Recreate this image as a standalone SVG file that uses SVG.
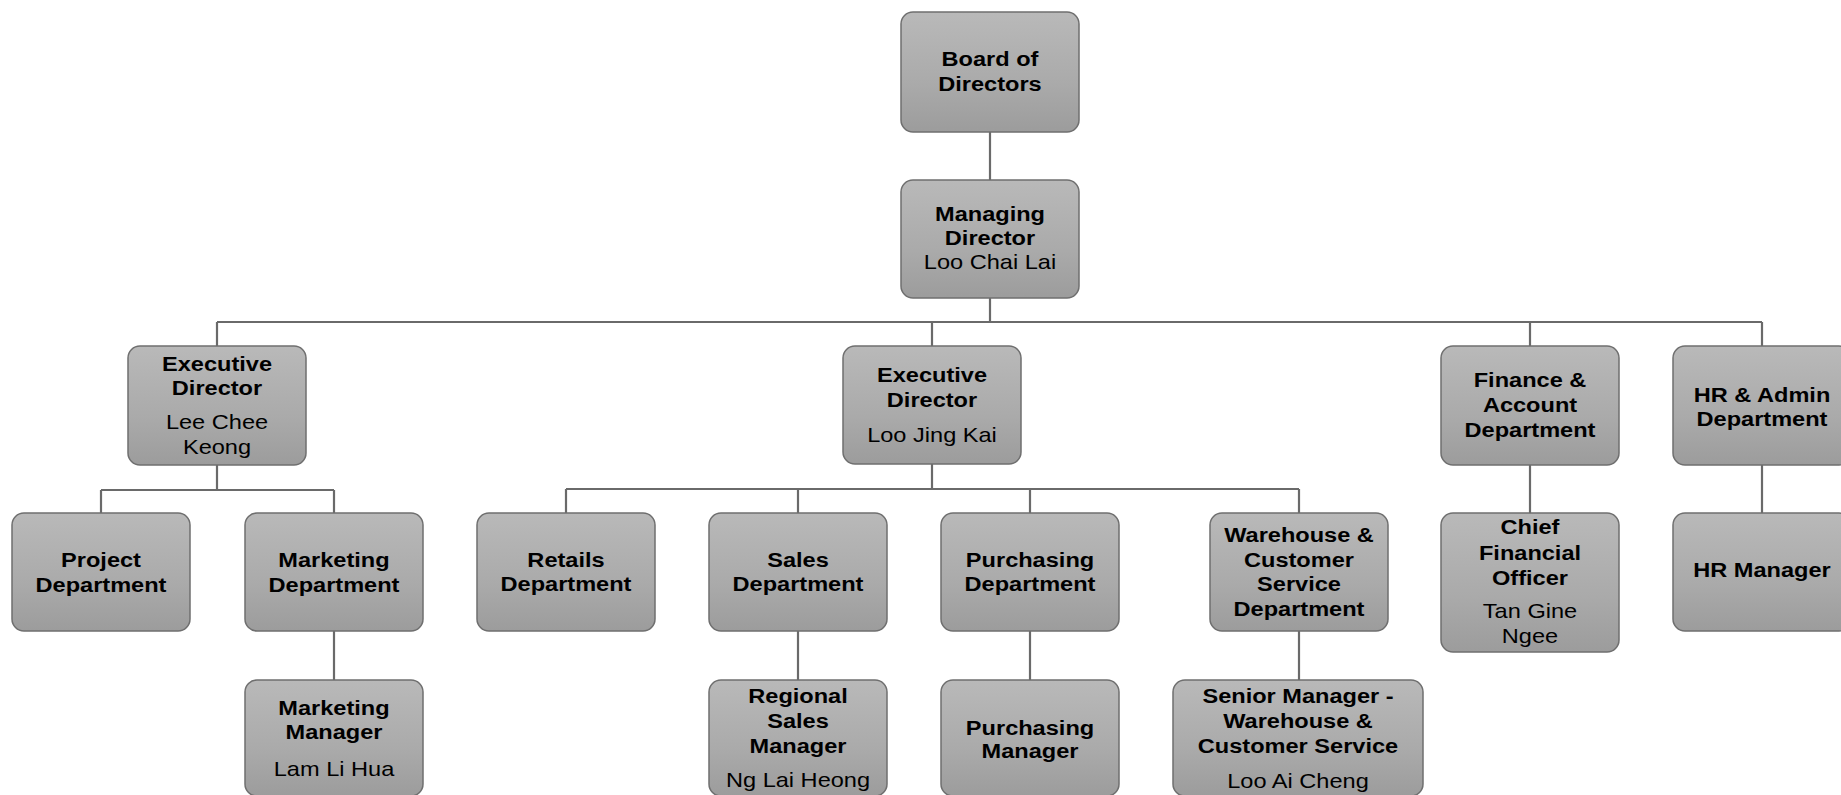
<svg xmlns="http://www.w3.org/2000/svg" width="1841" height="795" viewBox="0 0 1841 795">
<defs>
<linearGradient id="g" x1="0" y1="0" x2="0" y2="1">
<stop offset="0" stop-color="#b9b9b9"/>
<stop offset="0.6" stop-color="#aaaaaa"/>
<stop offset="1" stop-color="#9c9c9c"/>
</linearGradient>
<style>
.box{fill:url(#g);stroke:#6f6f6f;stroke-width:1.5}
.c{fill:none;stroke:#6a6a6a;stroke-width:2.2}
text{font-family:"Liberation Sans",Arial,sans-serif;font-size:20.5px;fill:#000;text-anchor:middle}
.b{font-weight:bold}
</style>
</defs>
<rect width="1841" height="795" fill="#fff"/>
<g id="connectors">
<path class="c" d="M990 132V180"/>
<path class="c" d="M990 298V322M217 322H1762M217 322V346M932 322V346M1530 322V346M1762 322V346"/>
<path class="c" d="M217 465V490M101 490H334M101 490V513M334 490V513"/>
<path class="c" d="M334 631V680"/>
<path class="c" d="M932 464V489M566 489H1299M566 489V513M798 489V513M1030 489V513M1299 489V513"/>
<path class="c" d="M798 631V680M1030 631V680M1299 631V680"/>
<path class="c" d="M1530 465V513M1762 465V513"/>
</g>
<g id="board">
<rect class="box" x="901" y="12" width="178" height="120" rx="12"/>
<g transform="matrix(1.15 0 0 1 990 0)"><text class="b" x="0" y="66">Board of</text><text class="b" x="0" y="91">Directors</text></g>
</g>
<g id="md">
<rect class="box" x="901" y="180" width="178" height="118" rx="12"/>
<g transform="matrix(1.15 0 0 1 990 0)"><text class="b" x="0" y="221">Managing</text><text class="b" x="0" y="245">Director</text><text x="0" y="269">Loo Chai Lai</text></g>
</g>
<g id="ed-lee">
<rect class="box" x="128" y="346" width="178" height="119" rx="12"/>
<g transform="matrix(1.15 0 0 1 217 0)"><text class="b" x="0" y="371">Executive</text><text class="b" x="0" y="395">Director</text><text x="0" y="429">Lee Chee</text><text x="0" y="454">Keong</text></g>
</g>
<g id="ed-loo">
<rect class="box" x="843" y="346" width="178" height="118" rx="12"/>
<g transform="matrix(1.15 0 0 1 932 0)"><text class="b" x="0" y="382">Executive</text><text class="b" x="0" y="407">Director</text><text x="0" y="442">Loo Jing Kai</text></g>
</g>
<g id="finance">
<rect class="box" x="1441" y="346" width="178" height="119" rx="12"/>
<g transform="matrix(1.15 0 0 1 1530 0)"><text class="b" x="0" y="387">Finance &amp;</text><text class="b" x="0" y="412">Account</text><text class="b" x="0" y="437">Department</text></g>
</g>
<g id="hr">
<rect class="box" x="1673" y="346" width="178" height="119" rx="12"/>
<g transform="matrix(1.15 0 0 1 1762 0)"><text class="b" x="0" y="402">HR &amp; Admin</text><text class="b" x="0" y="426">Department</text></g>
</g>
<g id="project">
<rect class="box" x="12" y="513" width="178" height="118" rx="12"/>
<g transform="matrix(1.15 0 0 1 101 0)"><text class="b" x="0" y="567">Project</text><text class="b" x="0" y="592">Department</text></g>
</g>
<g id="marketing">
<rect class="box" x="245" y="513" width="178" height="118" rx="12"/>
<g transform="matrix(1.15 0 0 1 334 0)"><text class="b" x="0" y="567">Marketing</text><text class="b" x="0" y="592">Department</text></g>
</g>
<g id="retails">
<rect class="box" x="477" y="513" width="178" height="118" rx="12"/>
<g transform="matrix(1.15 0 0 1 566 0)"><text class="b" x="0" y="567">Retails</text><text class="b" x="0" y="591">Department</text></g>
</g>
<g id="sales">
<rect class="box" x="709" y="513" width="178" height="118" rx="12"/>
<g transform="matrix(1.15 0 0 1 798 0)"><text class="b" x="0" y="567">Sales</text><text class="b" x="0" y="591">Department</text></g>
</g>
<g id="purchasing">
<rect class="box" x="941" y="513" width="178" height="118" rx="12"/>
<g transform="matrix(1.15 0 0 1 1030 0)"><text class="b" x="0" y="567">Purchasing</text><text class="b" x="0" y="591">Department</text></g>
</g>
<g id="warehouse">
<rect class="box" x="1210" y="513" width="178" height="118" rx="12"/>
<g transform="matrix(1.15 0 0 1 1299 0)"><text class="b" x="0" y="542">Warehouse &amp;</text><text class="b" x="0" y="567">Customer</text><text class="b" x="0" y="591">Service</text><text class="b" x="0" y="616">Department</text></g>
</g>
<g id="cfo">
<rect class="box" x="1441" y="513" width="178" height="139" rx="12"/>
<g transform="matrix(1.15 0 0 1 1530 0)"><text class="b" x="0" y="534">Chief</text><text class="b" x="0" y="560">Financial</text><text class="b" x="0" y="585">Officer</text><text x="0" y="618">Tan Gine</text><text x="0" y="643">Ngee</text></g>
</g>
<g id="hr-manager">
<rect class="box" x="1673" y="513" width="178" height="118" rx="12"/>
<g transform="matrix(1.15 0 0 1 1762 0)"><text class="b" x="0" y="577">HR Manager</text></g>
</g>
<g id="marketing-manager">
<rect class="box" x="245" y="680" width="178" height="116" rx="12"/>
<g transform="matrix(1.15 0 0 1 334 0)"><text class="b" x="0" y="715">Marketing</text><text class="b" x="0" y="739">Manager</text><text x="0" y="776">Lam Li Hua</text></g>
</g>
<g id="regional-sales">
<rect class="box" x="709" y="680" width="178" height="116" rx="12"/>
<g transform="matrix(1.15 0 0 1 798 0)"><text class="b" x="0" y="703">Regional</text><text class="b" x="0" y="728">Sales</text><text class="b" x="0" y="753">Manager</text><text x="0" y="787">Ng Lai Heong</text></g>
</g>
<g id="purchasing-manager">
<rect class="box" x="941" y="680" width="178" height="116" rx="12"/>
<g transform="matrix(1.15 0 0 1 1030 0)"><text class="b" x="0" y="735">Purchasing</text><text class="b" x="0" y="758">Manager</text></g>
</g>
<g id="senior-manager">
<rect class="box" x="1173" y="680" width="250" height="116" rx="12"/>
<g transform="matrix(1.15 0 0 1 1298 0)"><text class="b" x="0" y="703">Senior Manager -</text><text class="b" x="0" y="728">Warehouse &amp;</text><text class="b" x="0" y="753">Customer Service</text><text x="0" y="788">Loo Ai Cheng</text></g>
</g>
</svg>
